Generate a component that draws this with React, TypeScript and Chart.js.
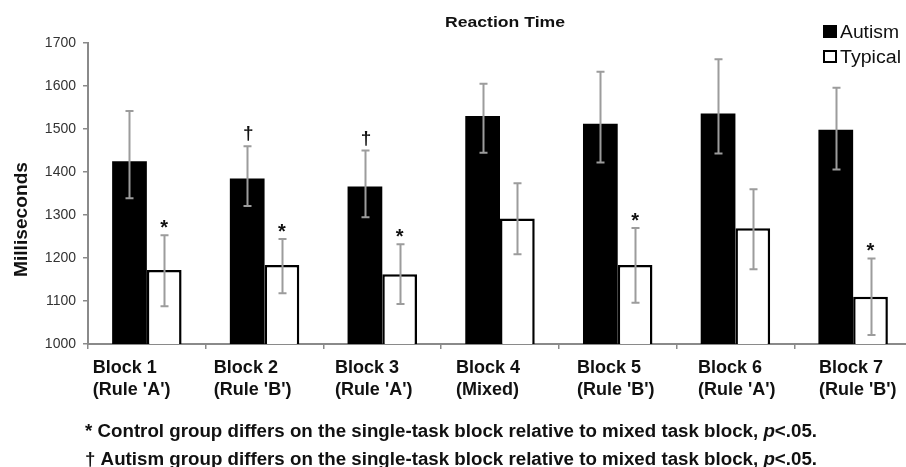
import React, { useEffect, useRef } from "react";
import { Chart, registerables } from "chart.js";

Chart.register(...registerables);

// ---------- data ----------
const blockLabels = ["Block 1", "Block 2", "Block 3", "Block 4", "Block 5", "Block 6", "Block 7"];
const ruleLabels = ["(Rule 'A')", "(Rule 'B')", "(Rule 'A')", "(Mixed)", "(Rule 'B')", "(Rule 'A')", "(Rule 'B')"];

const autismMean = [1425, 1385, 1366, 1530, 1512, 1536, 1498];
const autismHigh = [1542, 1460, 1450, 1605, 1633, 1662, 1596];
const autismLow = [1339, 1321, 1295, 1445, 1422, 1443, 1406];

const typicalMean = [1172, 1184, 1162, 1292, 1184, 1269, 1110];
const typicalHigh = [1253, 1244, 1232, 1374, 1270, 1360, 1199];
const typicalLow = [1088, 1118, 1093, 1209, 1096, 1174, 1021];

const typicalStar = [true, true, true, false, true, false, true];
const autismDagger = [false, true, true, false, false, false, false];

const yMin = 1000;
const yMax = 1700;
const yStep = 100;

const chartTitle = "Reaction Time";
const yTitle = "Milliseconds";
const seriesNames = ["Autism", "Typical"];
const footnote1 = "* Control group differs on the single-task block relative to mixed task block, ";
const footnote2 = "\u2020 Autism group differs on the single-task block relative to mixed task block, ";
const footnoteP = "p";
const footnoteTail = "<.05.";

// ---------- style ----------
const FONT = '"Liberation Sans", Arial, Helvetica, sans-serif';
const AXIS_GRAY = "#8a8a8a";
const ERR_GRAY = "#9c9c9c";

function fitText(ctx: CanvasRenderingContext2D, text: string, x: number, y: number, width: number) {
  const w = ctx.measureText(text).width;
  ctx.save();
  ctx.translate(x, y);
  ctx.scale(width / w, 1);
  ctx.fillText(text, 0, 0);
  ctx.restore();
}

const decorPlugin = {
  id: "decor",
  afterDatasetsDraw(chart: any) {
    const ctx: CanvasRenderingContext2D = chart.ctx;
    const yS = chart.scales.y;
    const xS = chart.scales.x;
    ctx.save();

    // error bars
    const groups: [number, number[], number[]][] = [
      [0, autismHigh, autismLow],
      [1, typicalHigh, typicalLow],
    ];
    groups.forEach(([di, hi, lo]) => {
      const meta = chart.getDatasetMeta(di);
      meta.data.forEach((bar: any, i: number) => {
        const x = Math.round(bar.x) + 0.5;
        const yh = yS.getPixelForValue(hi[i]);
        const yl = yS.getPixelForValue(lo[i]);
        ctx.strokeStyle = ERR_GRAY;
        ctx.lineWidth = 2;
        ctx.beginPath();
        ctx.moveTo(x, yh);
        ctx.lineTo(x, yl);
        ctx.moveTo(x - 4, yh);
        ctx.lineTo(x + 4, yh);
        ctx.moveTo(x - 4, yl);
        ctx.lineTo(x + 4, yl);
        ctx.stroke();
      });
    });

    // significance markers
    ctx.fillStyle = "#111";
    ctx.textAlign = "center";
    ctx.textBaseline = "alphabetic";
    const metaA = chart.getDatasetMeta(0);
    const metaT = chart.getDatasetMeta(1);
    metaT.data.forEach((bar: any, i: number) => {
      if (!typicalStar[i]) return;
      ctx.font = `bold 20px ${FONT}`;
      ctx.fillText("*", bar.x, yS.getPixelForValue(typicalHigh[i]) - 1);
    });
    metaA.data.forEach((bar: any, i: number) => {
      if (!autismDagger[i]) return;
      ctx.font = `bold 19px ${FONT}`;
      ctx.fillText("\u2020", bar.x + 1, yS.getPixelForValue(autismHigh[i]) - 7);
    });

    // x category labels (left aligned, two lines)
    ctx.textAlign = "left";
    ctx.font = `bold 18px ${FONT}`;
    ctx.fillStyle = "#111";
    blockLabels.forEach((lab, i) => {
      const x = xS.getPixelForValue(i) - 54 + i * 3.3;
      ctx.fillText(lab, x, xS.top + 29);
      ctx.fillText(ruleLabels[i], x, xS.top + 51);
    });

    // title
    ctx.font = `bold 15px ${FONT}`;
    ctx.fillStyle = "#111";
    fitText(ctx, chartTitle, 445, 27, 120);

    // y title
    ctx.save();
    ctx.translate(27, 277);
    ctx.rotate(-Math.PI / 2);
    ctx.font = `bold 19px ${FONT}`;
    fitText(ctx, yTitle, 0, 0, 115);
    ctx.restore();

    // legend
    ctx.fillStyle = "#000";
    ctx.fillRect(823, 25, 14, 13);
    ctx.fillStyle = "#fff";
    ctx.fillRect(823, 50, 14, 13);
    ctx.strokeStyle = "#000";
    ctx.lineWidth = 2;
    ctx.strokeRect(824, 51, 12, 11);
    ctx.fillStyle = "#111";
    ctx.font = `18px ${FONT}`;
    fitText(ctx, seriesNames[0], 840, 38, 59);
    fitText(ctx, seriesNames[1], 840, 63, 61);

    // footnotes
    const drawNote = (text: string, y: number) => {
      ctx.font = `bold 18px ${FONT}`;
      const w1 = ctx.measureText(text).width;
      ctx.font = `italic bold 18px ${FONT}`;
      const w2 = ctx.measureText(footnoteP).width;
      ctx.font = `bold 18px ${FONT}`;
      const w3 = ctx.measureText(footnoteTail).width;
      const s = 732 / (w1 + w2 + w3);
      ctx.save();
      ctx.translate(85, y);
      ctx.scale(s, 1);
      ctx.font = `bold 18px ${FONT}`;
      ctx.fillText(text, 0, 0);
      ctx.font = `italic bold 18px ${FONT}`;
      ctx.fillText(footnoteP, w1, 0);
      ctx.font = `bold 18px ${FONT}`;
      ctx.fillText(footnoteTail, w1 + w2, 0);
      ctx.restore();
    };
    drawNote(footnote1, 437);
    drawNote(footnote2, 465);

    ctx.restore();
  },
};

export default function App() {
  const canvasRef = useRef<HTMLCanvasElement | null>(null);

  useEffect(() => {
    const canvas = canvasRef.current;
    if (!canvas) return;
    const chart = new Chart(canvas, {
      type: "bar",
      data: {
        labels: blockLabels,
        datasets: [
          {
            label: seriesNames[0],
            data: autismMean,
            backgroundColor: "#000",
            borderColor: "#000",
            borderWidth: 0,
            categoryPercentage: 0.59,
            barPercentage: 1.0,
          },
          {
            label: seriesNames[1],
            data: typicalMean,
            backgroundColor: "#fff",
            borderColor: "#000",
            borderWidth: 2.5,
            categoryPercentage: 0.59,
            barPercentage: 1.0,
          },
        ],
      },
      options: {
        animation: false,
        responsive: false,
        maintainAspectRatio: false,
        devicePixelRatio: 1,
        layout: { padding: { top: 43, left: 0, right: 0, bottom: 0 } },
        plugins: {
          legend: { display: false },
          title: { display: false },
          tooltip: { enabled: false },
        },
        scales: {
          x: {
            offset: true,
            grid: {
              offset: true,
              drawOnChartArea: false,
              drawTicks: true,
              tickLength: 5,
              color: AXIS_GRAY,
              lineWidth: 1.5,
            },
            border: { display: true, color: AXIS_GRAY, width: 2 },
            ticks: { display: false },
            afterFit: (scale: any) => {
              scale.height = 123;
            },
          },
          y: {
            min: yMin,
            max: yMax,
            grid: {
              drawOnChartArea: false,
              drawTicks: true,
              tickLength: 5,
              color: AXIS_GRAY,
              lineWidth: 1.5,
            },
            border: { display: true, color: AXIS_GRAY, width: 2 },
            ticks: {
              stepSize: yStep,
              padding: 7,
              color: "#333",
              font: { family: FONT, size: 14 },
              callback: (v: any) => String(v),
            },
            afterFit: (scale: any) => {
              scale.width = 88;
            },
          },
        },
      },
      plugins: [decorPlugin],
    });
    return () => chart.destroy();
  }, []);

  return (
    <div
      style={{
        position: "fixed",
        left: 0,
        top: 0,
        width: 906,
        height: 467,
        overflow: "hidden",
        background: "#fff",
      }}
    >
      <canvas ref={canvasRef} width={912} height={467} style={{ width: 912, height: 467, display: "block" }} />
    </div>
  );
}
